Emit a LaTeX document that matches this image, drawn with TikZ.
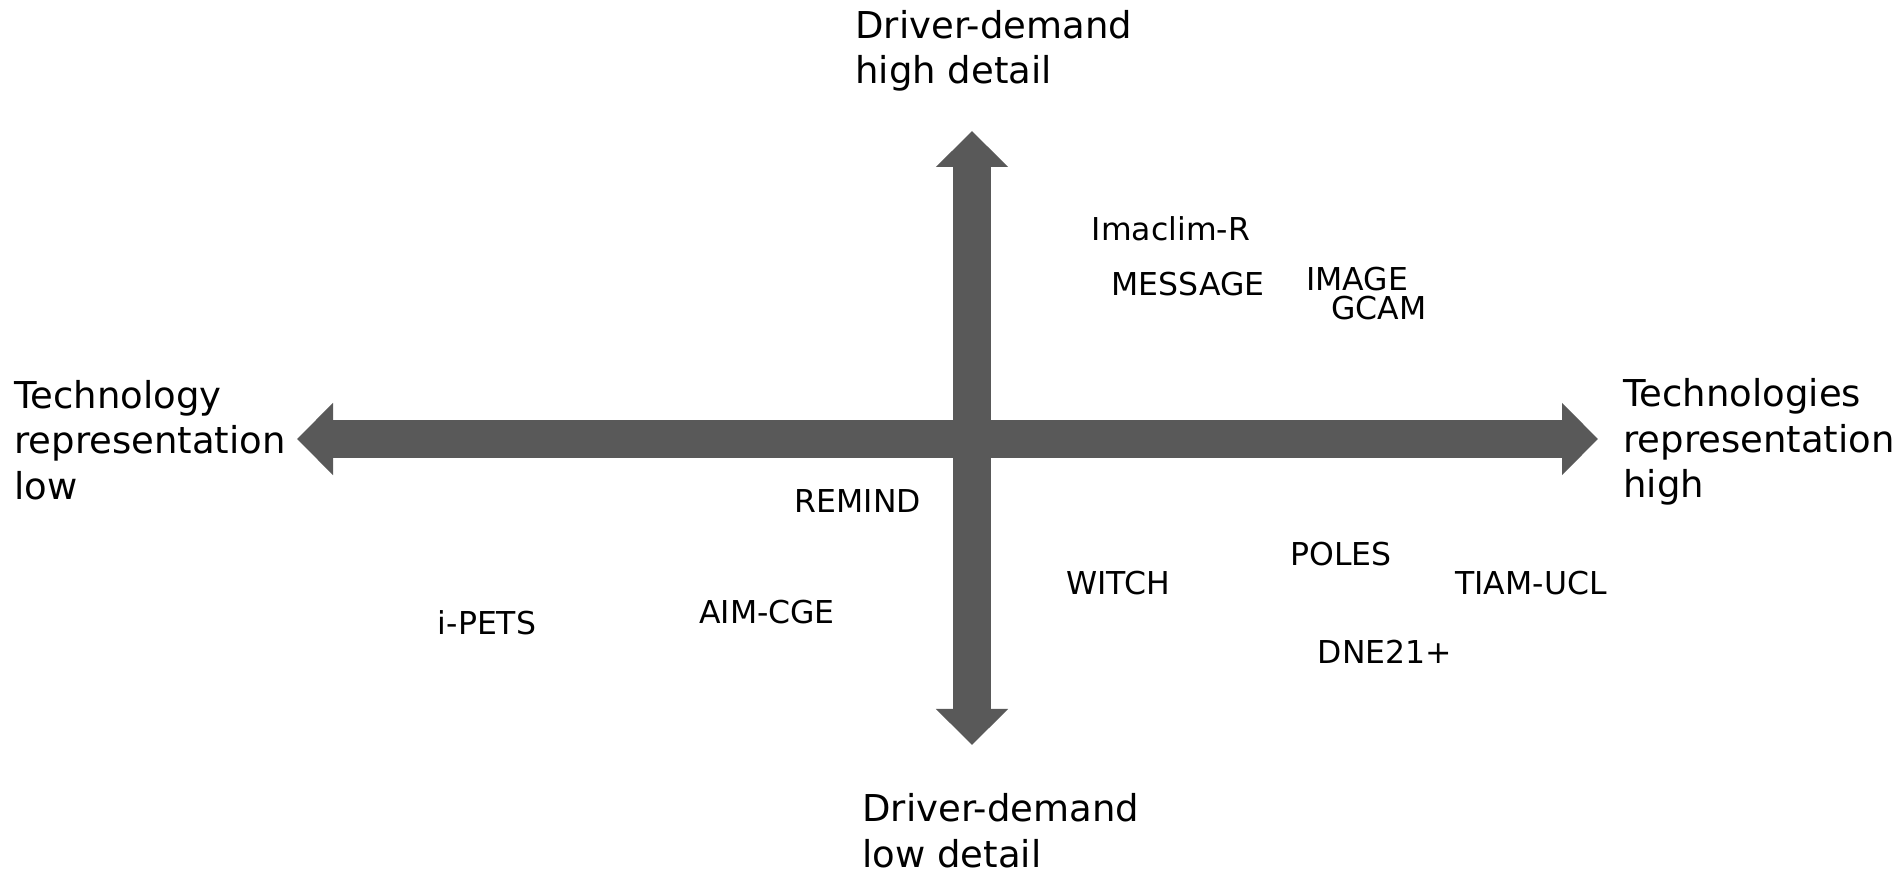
\documentclass[tikz,border=0pt]{standalone}
\usepackage{fontspec}
\setmainfont{DejaVu Sans}
\usepackage{tikz}
\usetikzlibrary{arrows.meta, positioning}
\definecolor{axisgray}{RGB}{89,89,89}

\begin{document}
\begin{tikzpicture}[x=0.5pt, y=-0.5pt,
  axis/.style={draw=axisgray, line width=19pt,
    {Triangle[length=18pt, width=35pt]}-{Triangle[length=18pt, width=35pt]}},
  pole/.style={inner sep=0pt, align=left, font=\fontsize{18.5}{22.8}\selectfont},
  model/.style={inner sep=0pt, font=\fontsize{15.75}{19}\selectfont}]
\useasboundingbox (0,0) rectangle (1900,870);
%
\coordinate (ytop) at (972,131);
\coordinate (ybot) at (972,745);
\coordinate (xlow) at (297,439);
\coordinate (xhigh) at (1598,439);
\draw[axis] (xlow) -- (xhigh);
\draw[axis] (ybot) -- (ytop);
%
\node[pole, anchor=west] (hidemand) at (855,51) {Driver-demand\\high detail};
\node[pole, anchor=west] (lodemand) at (862,831) {Driver-demand\\low detail};
\node[pole, anchor=west] (lotech) at (14,440) {Technology\\representation\\low};
\node[pole, anchor=west] (hitech) at (1623,442) {Technologies\\representation\\high};
%
\node[model] (imaclim) at (1171,229) {Imaclim-R};
\node[model] (message) at (1188,284) {MESSAGE};
\node[model] (image) at (1357,279) {IMAGE};
\node[model] (gcam) at (1379,308) {GCAM};
\node[model] (remind) at (858,501) {REMIND};
\node[model] (witch) at (1118,583) {WITCH};
\node[model] (poles) at (1341,554) {POLES};
\node[model] (tiam) at (1531,583) {TIAM-UCL};
\node[model] (dne) at (1385,652) {DNE21+};
\node[model] (aimcge) at (767,612) {AIM-CGE};
\node[model] (ipets) at (487,623) {i-PETS};
%
\end{tikzpicture}
\end{document}
